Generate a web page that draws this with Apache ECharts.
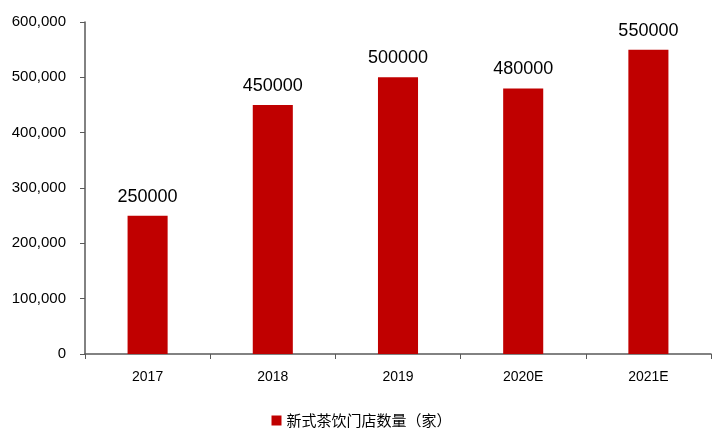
<!DOCTYPE html>
<html>
<head>
<meta charset="utf-8">
<script src="https://cdn.jsdelivr.net/npm/echarts@6/dist/echarts.min.js"></script>
<style>
  html, body { margin: 0; padding: 0; background: #fff; }
  #main { width: 723px; height: 439px; }
</style>
</head>
<body>
<div id="main"></div>
<script>
// 年份
var years = ['2017', '2018', '2019', '2020E', '2021E'];
// 新式茶饮门店数量（家）
var storeCount = [250000, 450000, 500000, 480000, 550000];
var seriesName = '新式茶饮门店数量（家）';

var chart = echarts.init(document.getElementById('main'));

var option = {
  animation: false,
  grid: {
    left: 85,
    right: 12,
    top: 22,
    bottom: 85
  },
  legend: {
    data: [seriesName],
    bottom: 6,
    left: 'center',
    icon: 'rect',
    itemWidth: 10,
    itemHeight: 10,
    itemGap: 4,
    textStyle: {
      fontFamily: 'Noto Sans CJK SC',
      fontSize: 15,
      color: '#000'
    }
  },
  xAxis: {
    type: 'category',
    data: years,
    axisLine: { lineStyle: { color: '#595959', width: 1.5 } },
    axisTick: { show: true, length: 5, lineStyle: { color: '#595959' } },
    axisLabel: {
      margin: 16,
      fontFamily: 'Liberation Sans Narrow, Liberation Sans',
      fontSize: 14,
      color: '#000'
    }
  },
  yAxis: {
    type: 'value',
    min: 0,
    max: 600000,
    interval: 100000,
    axisLine: { show: true, lineStyle: { color: '#595959', width: 1.5 } },
    axisTick: { show: true, length: 5, lineStyle: { color: '#595959' } },
    splitLine: { show: false },
    axisLabel: {
      margin: 19,
      fontFamily: 'Liberation Sans',
      fontSize: 15,
      color: '#000',
      formatter: function (v) {
        return v.toString().replace(/\B(?=(\d{3})+(?!\d))/g, ',');
      }
    }
  },
  series: [{
    name: seriesName,
    type: 'bar',
    data: storeCount,
    barWidth: '32%',
    itemStyle: { color: '#C00000' },
    label: {
      show: true,
      position: 'top',
      distance: 10,
      fontFamily: 'Liberation Sans',
      fontSize: 18,
      color: '#000'
    }
  }]
};

chart.setOption(option);
</script>
</body>
</html>
